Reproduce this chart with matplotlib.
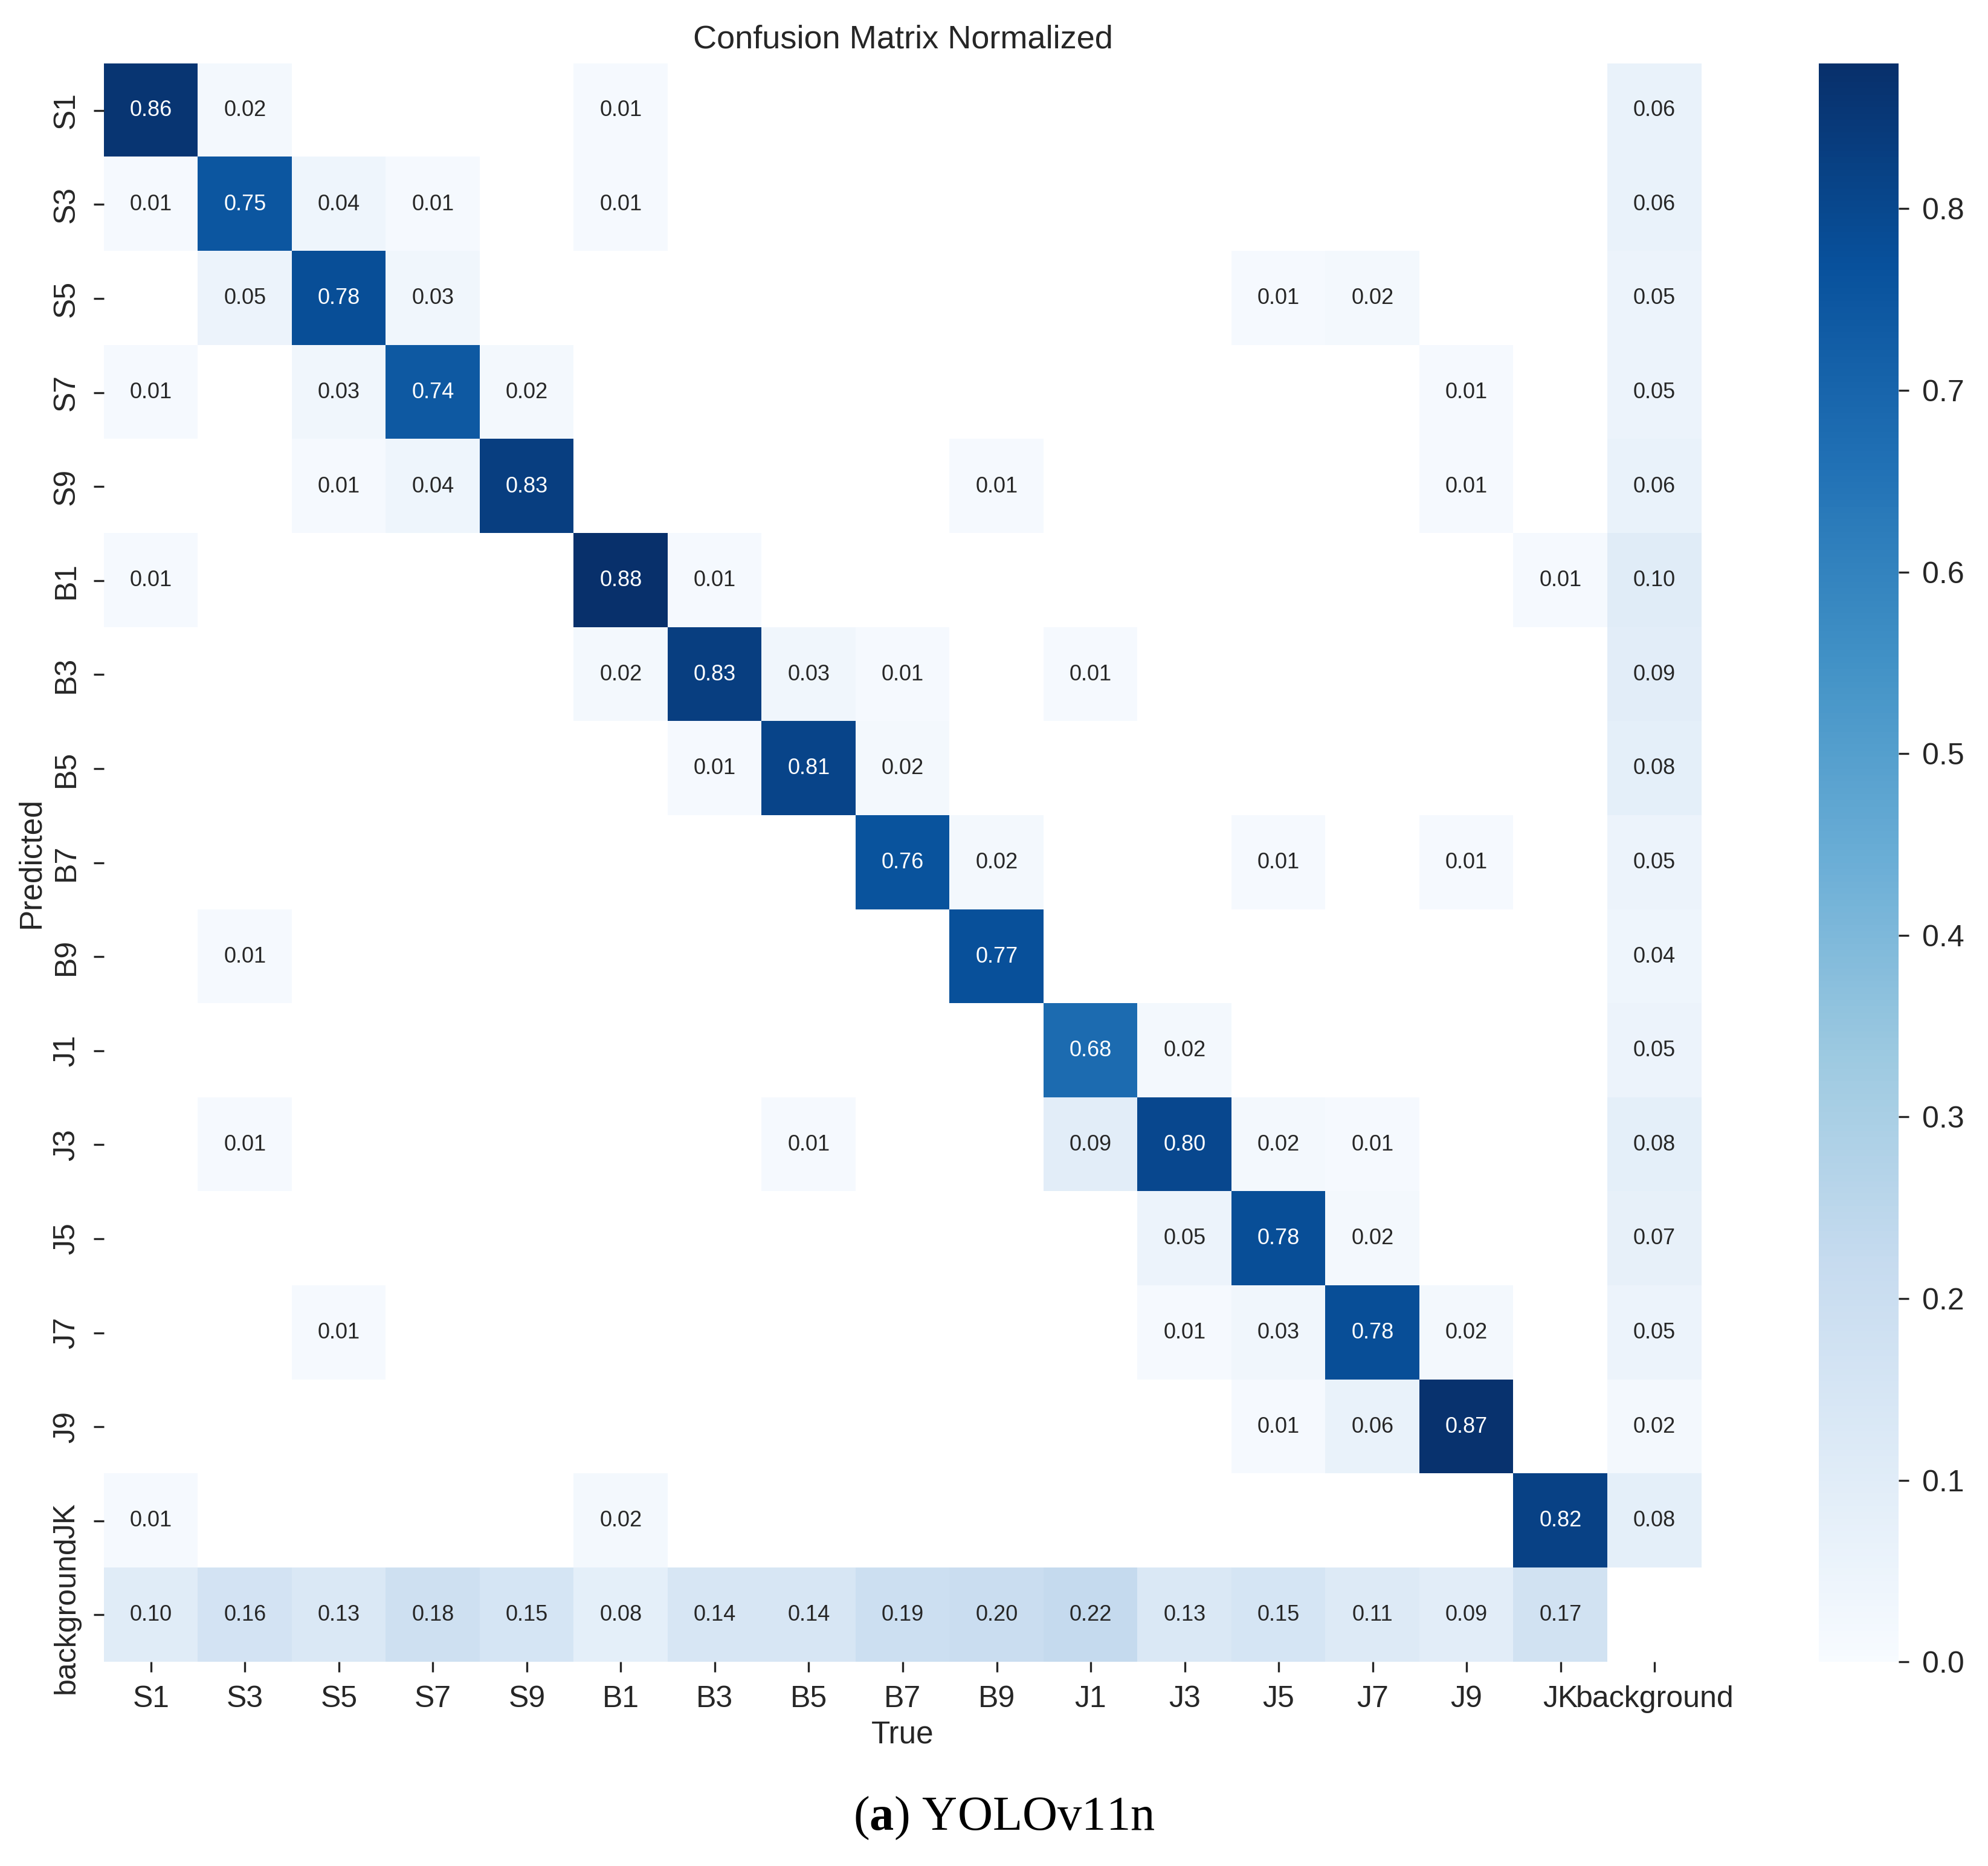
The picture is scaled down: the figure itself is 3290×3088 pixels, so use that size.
import numpy as np
import matplotlib
matplotlib.use("Agg")
import matplotlib.pyplot as plt
from matplotlib import colors as mcolors

# ---- data ----
classes = ["S1", "S3", "S5", "S7", "S9", "B1", "B3", "B5", "B7", "B9",
           "J1", "J3", "J5", "J7", "J9", "JK", "background"]
# rows = Predicted, columns = True (0 = empty cell)
matrix = [
    [0.86, 0.02, 0, 0, 0, 0.01, 0, 0, 0, 0, 0, 0, 0, 0, 0, 0, 0.06],
    [0.01, 0.75, 0.04, 0.01, 0, 0.01, 0, 0, 0, 0, 0, 0, 0, 0, 0, 0, 0.06],
    [0, 0.05, 0.78, 0.03, 0, 0, 0, 0, 0, 0, 0, 0, 0.01, 0.02, 0, 0, 0.05],
    [0.01, 0, 0.03, 0.74, 0.02, 0, 0, 0, 0, 0, 0, 0, 0, 0, 0.01, 0, 0.05],
    [0, 0, 0.01, 0.04, 0.83, 0, 0, 0, 0, 0.01, 0, 0, 0, 0, 0.01, 0, 0.06],
    [0.01, 0, 0, 0, 0, 0.88, 0.01, 0, 0, 0, 0, 0, 0, 0, 0, 0.01, 0.10],
    [0, 0, 0, 0, 0, 0.02, 0.83, 0.03, 0.01, 0, 0.01, 0, 0, 0, 0, 0, 0.09],
    [0, 0, 0, 0, 0, 0, 0.01, 0.81, 0.02, 0, 0, 0, 0, 0, 0, 0, 0.08],
    [0, 0, 0, 0, 0, 0, 0, 0, 0.76, 0.02, 0, 0, 0.01, 0, 0.01, 0, 0.05],
    [0, 0.01, 0, 0, 0, 0, 0, 0, 0, 0.77, 0, 0, 0, 0, 0, 0, 0.04],
    [0, 0, 0, 0, 0, 0, 0, 0, 0, 0, 0.68, 0.02, 0, 0, 0, 0, 0.05],
    [0, 0.01, 0, 0, 0, 0, 0, 0.01, 0, 0, 0.09, 0.80, 0.02, 0.01, 0, 0, 0.08],
    [0, 0, 0, 0, 0, 0, 0, 0, 0, 0, 0, 0.05, 0.78, 0.02, 0, 0, 0.07],
    [0, 0, 0.01, 0, 0, 0, 0, 0, 0, 0, 0, 0.01, 0.03, 0.78, 0.02, 0, 0.05],
    [0, 0, 0, 0, 0, 0, 0, 0, 0, 0, 0, 0, 0.01, 0.06, 0.87, 0, 0.02],
    [0.01, 0, 0, 0, 0, 0.02, 0, 0, 0, 0, 0, 0, 0, 0, 0, 0.82, 0.08],
    [0.10, 0.16, 0.13, 0.18, 0.15, 0.08, 0.14, 0.14, 0.19, 0.20, 0.22,
     0.13, 0.15, 0.11, 0.09, 0.17, 0],
]
cbar_ticks = [0.0, 0.1, 0.2, 0.3, 0.4, 0.5, 0.6, 0.7, 0.8]
title = "Confusion Matrix Normalized"
caption_model = "YOLOv11n"

# ---- style ----
plt.rcParams["font.family"] = ["Liberation Sans", "DejaVu Sans"]
plt.rcParams["mathtext.fontset"] = "custom"
plt.rcParams["mathtext.rm"] = "Liberation Serif"
plt.rcParams["mathtext.bf"] = "Liberation Serif:bold"

DPI = 200
fig = plt.figure(figsize=(3290 / DPI, 3088 / DPI), dpi=DPI)
fig.patch.set_facecolor("white")

ax = fig.add_axes([0.0523, 0.1094, 0.8036, 0.8566])
cax = fig.add_axes([0.915, 0.1094, 0.040, 0.8566])

data = np.array(matrix, dtype=float)
masked = np.ma.masked_where(data < 0.005, data)
cmap = plt.get_cmap("Blues").copy()
cmap.set_bad("white")
vmax = data.max()
norm = mcolors.Normalize(vmin=0.0, vmax=vmax)
n = len(classes)
im = ax.imshow(masked, cmap=cmap, norm=norm, aspect="auto",
               interpolation="nearest")

for i in range(n):
    for j in range(n):
        v = data[i, j]
        if v < 0.005:
            continue
        r, g, b, _ = cmap(norm(v))
        lum = 0.2126 * r + 0.7152 * g + 0.0722 * b
        tc = "#262626" if lum > 0.408 else "white"
        ax.text(j, i, f"{v:.2f}", ha="center", va="center",
                fontsize=13, color=tc)

ax.set_xticks(range(n))
ax.set_xticklabels(classes, fontsize=18)
ax.set_yticks(range(n))
ax.set_yticklabels(classes, fontsize=18, rotation=90, va="center")
ax.tick_params(axis="both", length=6, width=1.2, color="#262626",
               pad=8, labelcolor="#262626")
for s in ax.spines.values():
    s.set_visible(False)
ax.set_xlabel("True", fontsize=18.5, color="#262626", labelpad=4)
ax.set_ylabel("Predicted", fontsize=18.5, color="#262626", labelpad=4)
ax.set_title(title, fontsize=19.5, color="#262626", pad=9)

cb = fig.colorbar(im, cax=cax, ticks=cbar_ticks)
cb.outline.set_visible(False)
cb.ax.tick_params(labelsize=18, length=6, width=1.2, color="#262626",
                  labelcolor="#262626", pad=8)
cb.ax.set_yticklabels([f"{t:.1f}" for t in cbar_ticks])

fig.text(0.505, 0.0255, r"($\mathbf{a}$) " + caption_model,
         ha="center", va="center", fontsize=29,
         family=["Liberation Serif", "DejaVu Serif"], color="black")

fig.savefig("out.png", dpi=DPI, facecolor="white")
